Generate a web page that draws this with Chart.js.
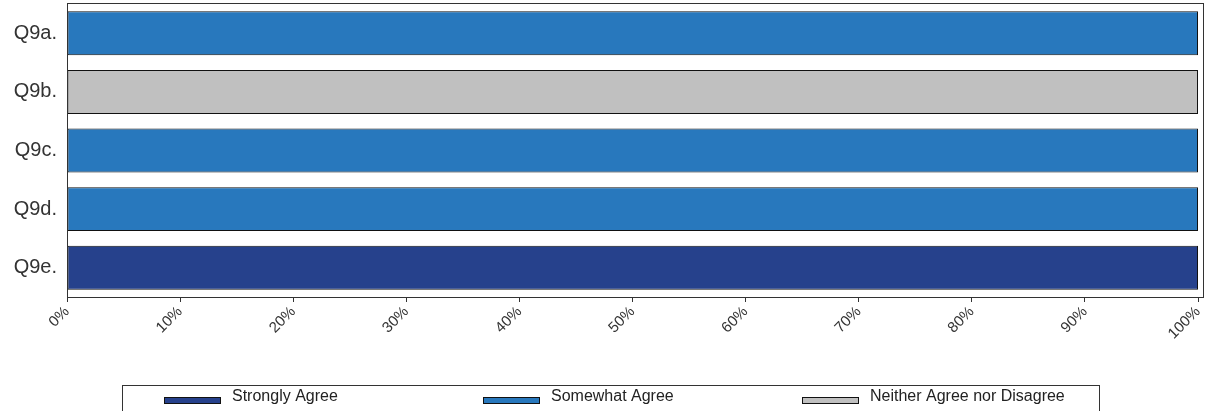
<!DOCTYPE html>
<html>
<head>
<meta charset="utf-8">
<script src="https://cdn.jsdelivr.net/npm/chart.js@4/dist/chart.umd.min.js"></script>
<style>
  html, body { margin: 0; padding: 0; background: #fff; }
  #wrap { width: 1208px; height: 411px; }
</style>
</head>
<body>
<div id="wrap"><canvas id="myChart" width="1208" height="411"></canvas></div>
<script>
// categories and series (percent of respondents)
const questions = ['Q9a.', 'Q9b.', 'Q9c.', 'Q9d.', 'Q9e.'];
const stronglyAgree = [null, null, null, null, 100];
const somewhatAgree = [100, null, 100, 100, null];
const neitherAgree = [null, 100, null, null, null];
const seriesNames = ['Strongly Agree', 'Somewhat Agree', 'Neither Agree nor Disagree'];
const seriesColors = ['#26418c', '#2878bd', '#c0c0c0'];
const xTicks = [0, 10, 20, 30, 40, 50, 60, 70, 80, 90, 100];

const FONT = '"Liberation Sans", Arial, sans-serif';

// frame round the plot, slightly past 100%
const framePlugin = {
  id: 'frame',
  afterDatasetsDraw(chart) {
    const a = chart.chartArea;
    const ctx = chart.ctx;
    ctx.save();
    ctx.strokeStyle = '#333';
    ctx.lineWidth = 1;
    ctx.strokeRect(Math.round(a.left) + 0.5, Math.round(a.top) - 0.5,
      Math.round(a.right - a.left) + 5, Math.round(a.bottom - a.top) + 1);
    ctx.restore();
  }
};

// legend drawn by hand in a box under the axis
const legendBox = {
  id: 'legendBox',
  afterDraw(chart) {
    const ctx = chart.ctx;
    ctx.save();
    ctx.strokeStyle = '#333';
    ctx.lineWidth = 1;
    ctx.strokeRect(122.5, 385.5, 977, 40);
    const xs = [164, 483, 802];
    chart.data.datasets.forEach((ds, i) => {
      ctx.fillStyle = ds.backgroundColor;
      ctx.fillRect(xs[i], 397, 56, 6);
      ctx.strokeStyle = '#111';
      ctx.strokeRect(xs[i] + 0.5, 397.5, 56, 6);
      ctx.fillStyle = '#222';
      ctx.font = '16px ' + FONT;
      ctx.textBaseline = 'middle';
      ctx.fillText(ds.label, xs[i] + 68, 397);
    });
    ctx.restore();
  }
};

const ctx = document.getElementById('myChart').getContext('2d');
const chart = new Chart(ctx, {
  type: 'bar',
  data: {
    labels: questions,
    datasets: [stronglyAgree, somewhatAgree, neitherAgree].map((vals, i) => ({
      label: seriesNames[i],
      data: vals,
      backgroundColor: seriesColors[i],
      borderColor: '#111',
      borderWidth: 1,
      borderSkipped: false,
      barPercentage: 0.75,
      categoryPercentage: 1
    }))
  },
  options: {
    indexAxis: 'y',
    responsive: false,
    animation: false,
    layout: { padding: { top: 4, right: 10, left: 0, bottom: 0 } },
    plugins: {
      legend: { display: false },
      tooltip: { enabled: false }
    },
    scales: {
      x: {
        stacked: true,
        min: 0,
        max: 100,
        afterBuildTicks: (scale) => { scale.ticks = xTicks.map(v => ({ value: v })); },
        afterFit: (scale) => { scale.height = 114; scale.paddingLeft = 0; scale.paddingRight = 0; },
        border: { display: false },
        grid: { drawOnChartArea: false, tickLength: 5, color: '#333' },
        ticks: {
          minRotation: 45,
          maxRotation: 45,
          padding: 1,
          color: '#333',
          font: { family: FONT, size: 15 },
          callback: (v) => v + '%'
        }
      },
      y: {
        stacked: true,
        afterFit: (scale) => { scale.width = 67; scale.paddingTop = 0; scale.paddingBottom = 0; },
        border: { display: false },
        grid: { display: false },
        ticks: {
          padding: 2,
          color: '#333',
          font: { family: FONT, size: 20 }
        }
      }
    }
  },
  plugins: [framePlugin, legendBox]
});
</script>
</body>
</html>
